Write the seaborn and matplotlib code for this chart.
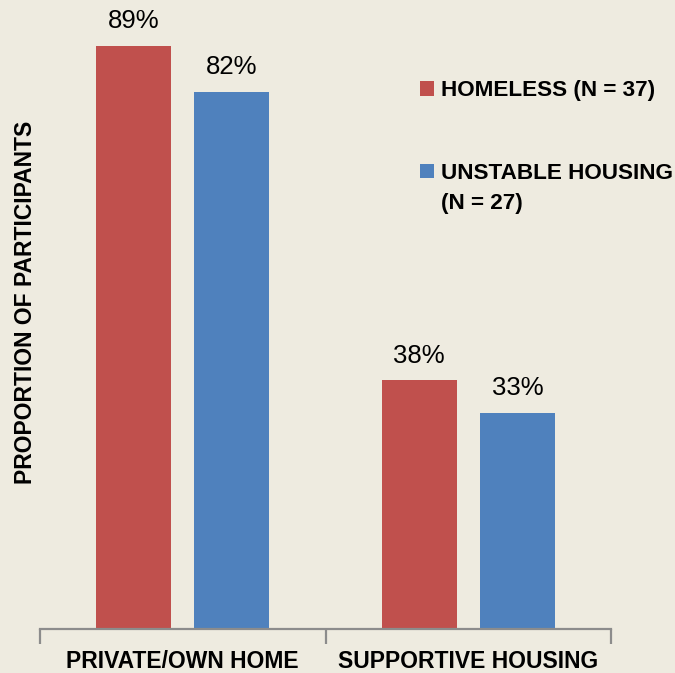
import matplotlib
matplotlib.use("Agg")
import matplotlib.pyplot as plt
from matplotlib.patches import Patch, Rectangle
from matplotlib.legend_handler import HandlerPatch
from matplotlib.ticker import FixedLocator, NullFormatter
import seaborn as sns
import pandas as pd

# Housing preference by participant group
categories = ["PRIVATE/OWN HOME", "SUPPORTIVE HOUSING"]
groups = ["HOMELESS (N = 37)", "UNSTABLE HOUSING\n(N = 27)"]
homeless = [0.89, 0.38]
unstable = [0.82, 0.33]

df = pd.DataFrame({
    "category": categories * 2,
    "group": [groups[0]] * 2 + [groups[1]] * 2,
    "value": homeless + unstable,
})

BG = "#EEEBE0"
palette = {groups[0]: "#C0504D", groups[1]: "#4F81BD"}

sns.set_theme(style="white")
plt.rcParams["font.family"] = ["Liberation Sans", "DejaVu Sans"]
plt.rcParams["text.color"] = "black"

fig = plt.figure(figsize=(6.75, 6.73), dpi=100, facecolor=BG)
ax = fig.add_axes([40 / 675, 1 - 629 / 673, (611 - 40) / 675, 629 / 673])
ax.set_facecolor(BG)

sns.barplot(data=df, x="category", y="value", hue="group", order=categories,
            hue_order=groups, palette=palette, width=0.688, gap=0.235,
            saturation=1, linewidth=0, ax=ax, legend=False)

for cont in ax.containers:
    ax.bar_label(cont, labels=[f"{v * 100:.0f}%" for v in cont.datavalues],
                 padding=9, fontsize=18.5, color="black")

ax.set_xlim(-0.5, 1.5)
ax.set_ylim(0, 0.96)
ax.set_yticks([])
for side in ["top", "right", "left"]:
    ax.spines[side].set_visible(False)
ax.spines["bottom"].set_color("#8C8C8C")
ax.spines["bottom"].set_linewidth(1.6)

# Group boundary ticks, category names centred between them
ax.xaxis.set_major_locator(FixedLocator([-0.5, 0.5, 1.5]))
ax.xaxis.set_major_formatter(NullFormatter())
ax.set_xticks([0, 1], categories, minor=True)
ax.tick_params(axis="x", which="major", bottom=True, length=11, width=1.6,
               color="#8C8C8C", direction="out")
ax.tick_params(axis="x", which="minor", bottom=True, length=0, pad=15,
               labelsize=16.5, labelcolor="black")
for lbl in ax.get_xticklabels(minor=True):
    lbl.set_fontweight("bold")

ax.set_xlabel("")
ax.set_ylabel("PROPORTION OF PARTICIPANTS", fontsize=16.5, fontweight="bold",
              color="black")
ax.yaxis.set_label_coords(-0.005, 0.52)


# Legend swatch sitting beside the first line of its label
def swatch(legend, orig_handle, xdescent, ydescent, width, height, fontsize):
    return Rectangle((-xdescent, -ydescent - 0.5), width, height)


handles = [Patch(facecolor=palette[g], edgecolor="none") for g in groups]
leg = fig.legend(handles, groups, loc="upper left",
                 bbox_to_anchor=(400 / 675, 1 - 60 / 673), frameon=False,
                 handlelength=0.62, handleheight=0.62, handletextpad=0.3,
                 labelspacing=2.75,
                 handler_map={Patch: HandlerPatch(patch_func=swatch)},
                 prop={"weight": "bold", "size": 16.2})
for col in leg._legend_handle_box.get_children():
    for row in col.get_children():
        row.align = "top"
for t in leg.get_texts():
    t.set_color("black")
    t.set_linespacing(1.55)

fig.savefig("out.png", dpi=100, facecolor=BG)
